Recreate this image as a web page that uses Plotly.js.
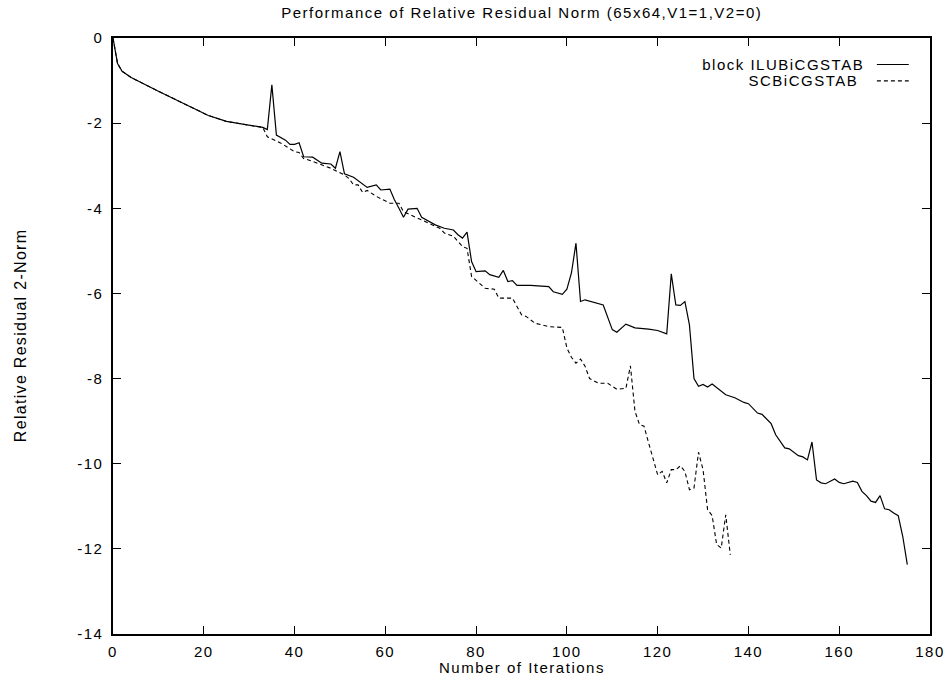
<!DOCTYPE html>
<html>
<head>
<meta charset="utf-8">
<script src="https://cdn.plot.ly/plotly-3.0.1.min.js"></script>
<style>
html,body{margin:0;padding:0;background:#fff;}
#chart{width:947px;height:686px;}
/* the reference's text is drawn wider than its height: widen it a little */
#chart .xtick text, #chart .ytick text, #chart .gtitle, #chart .annotation-text.wide { letter-spacing: 1.5px; }
#chart .annotation-text.vwide { letter-spacing: 1.3px; }
</style>
</head>
<body>
<div id="chart"></div>
<script>
// block ILUBiCGSTAB
const iluIter = [0,1,2,4,10,16,21,25,30,33,34,35,36,38,39,40,41,42,44,46,48,49,50,51,53,54,56,58,59,61,62,63,64,65,67,68,71,73,75,76,77,78,79,80,82,83,85,86,87,88,89,92,96,97,99,100,101,102,103,104,108,110,111,113,115,118,120,122,123,124,125,126,127,128,129,130,131,132,135,137,139,140,142,143,145,146,148,149,151,152,153,154,155,156,157,159,160,161,163,164,165,166,167,168,169,170,171,172,173,174,175];
const iluNorm = [0,-0.6,-0.78,-0.93,-1.25,-1.57,-1.82,-1.96,-2.05,-2.1,-2.15,-1.1,-2.28,-2.4,-2.5,-2.5,-2.46,-2.79,-2.8,-2.94,-2.96,-3.06,-2.67,-3.19,-3.27,-3.35,-3.51,-3.45,-3.57,-3.55,-3.8,-4.0,-4.21,-4.02,-4.0,-4.21,-4.39,-4.47,-4.51,-4.62,-4.7,-4.56,-5.25,-5.49,-5.47,-5.56,-5.62,-5.46,-5.72,-5.7,-5.81,-5.81,-5.84,-5.96,-6.02,-5.9,-5.52,-4.82,-6.19,-6.15,-6.27,-6.85,-6.91,-6.72,-6.81,-6.84,-6.87,-6.95,-5.54,-6.27,-6.28,-6.19,-6.74,-8.0,-8.18,-8.14,-8.2,-8.13,-8.38,-8.45,-8.56,-8.59,-8.81,-8.84,-9.06,-9.32,-9.63,-9.65,-9.81,-9.84,-9.91,-9.49,-10.38,-10.45,-10.47,-10.36,-10.44,-10.47,-10.41,-10.44,-10.65,-10.75,-10.88,-10.91,-10.75,-11.06,-11.08,-11.16,-11.22,-11.71,-12.37];

// SCBiCGSTAB
const scIter = [0,1,2,4,10,16,21,25,30,33,34,37,40,41,42,44,48,51,52,53,54,55,56,58,61,63,64,68,72,73,75,77,78,79,81,82,84,85,88,90,91,93,96,99,100,101,102,103,104,105,107,109,111,113,114,115,116,117,118,120,121,122,123,124,125,126,127,128,129,130,131,132,133,134,135,136];
const scNorm = [0,-0.6,-0.78,-0.93,-1.25,-1.57,-1.82,-1.96,-2.05,-2.1,-2.32,-2.47,-2.67,-2.69,-2.83,-2.9,-3.06,-3.22,-3.3,-3.45,-3.45,-3.63,-3.58,-3.72,-3.88,-3.88,-4.08,-4.27,-4.47,-4.58,-4.66,-4.9,-4.94,-5.6,-5.8,-5.88,-5.9,-6.11,-6.11,-6.5,-6.54,-6.7,-6.78,-6.8,-7.28,-7.5,-7.64,-7.54,-7.71,-8.0,-8.11,-8.11,-8.25,-8.23,-7.7,-8.77,-9.08,-9.12,-9.51,-10.26,-10.18,-10.45,-10.14,-10.14,-10.05,-10.18,-10.61,-10.57,-9.73,-10.14,-11.08,-11.22,-11.9,-11.98,-11.2,-12.14];

const seriesNames = ['block ILUBiCGSTAB', 'SCBiCGSTAB'];
const xTicks = [0,20,40,60,80,100,120,140,160,180];
const yTicks = [0,-2,-4,-6,-8,-10,-12,-14];

const FONT = 'Liberation Sans, Arial, Helvetica, sans-serif';
const TXT = {family: FONT, size: 15, color: '#000'};

const traces = [
  {x: iluIter, y: iluNorm, mode: 'lines', name: seriesNames[0],
   line: {color: '#000', width: 1.2, dash: 'solid'}, showlegend: false},
  {x: scIter, y: scNorm, mode: 'lines', name: seriesNames[1],
   line: {color: '#000', width: 1.1, dash: '4px,3px'}, showlegend: false}
];

const axisCommon = {
  showgrid: false, zeroline: false, showline: true, linecolor: '#000', linewidth: 1.6,
  mirror: 'ticks', ticks: 'inside', ticklen: 8, tickwidth: 1, tickcolor: '#000',
  tickfont: TXT
};

const layout = {
  width: 947, height: 686,
  margin: {l: 113, r: 17, t: 38, b: 52},
  paper_bgcolor: '#fff', plot_bgcolor: '#fff',
  font: {family: FONT, color: '#000'},
  title: {text: 'Performance of Relative Residual Norm (65x64,V1=1,V2=0)',
          font: TXT, x: 0.551, xanchor: 'center', y: 0.982, yanchor: 'middle'},
  xaxis: Object.assign({}, axisCommon, {
    range: [0, 180], tickvals: xTicks, ticktext: xTicks.map(String), ticklabelstandoff: 3
  }),
  yaxis: Object.assign({}, axisCommon, {
    range: [-14, 0], tickvals: yTicks, ticktext: yTicks.map(String), ticklabelstandoff: 5
  }),
  annotations: [
    {xref: 'paper', yref: 'paper', x: 0.5, y: -0.057, xanchor: 'center', yanchor: 'middle',
     text: 'Number of Iterations', showarrow: false, font: TXT},
    {xref: 'paper', yref: 'paper', x: -0.1144, y: 0.5, xanchor: 'center', yanchor: 'middle',
     textangle: -90, text: 'Relative Residual 2-Norm', showarrow: false,
     font: {family: FONT, size: 16, color: '#000'}},
    {xref: 'paper', yref: 'paper', x: 0.906, y: 0.9555, xanchor: 'right', yanchor: 'middle',
     text: seriesNames[0], showarrow: false, font: TXT},
    {xref: 'paper', yref: 'paper', x: 0.906, y: 0.928, xanchor: 'right', yanchor: 'middle',
     text: seriesNames[1], showarrow: false, font: TXT}
  ],
  shapes: [
    {type: 'line', xref: 'paper', yref: 'paper', x0: 0.935, x1: 0.974, y0: 0.9555, y1: 0.9555,
     line: {color: '#000', width: 1.2}},
    {type: 'line', xref: 'paper', yref: 'paper', x0: 0.935, x1: 0.974, y0: 0.928, y1: 0.928,
     line: {color: '#000', width: 1.1, dash: '4px,3px'}}
  ]
};

Plotly.newPlot('chart', traces, layout, {displayModeBar: false, staticPlot: true}).then(function () {
  document.querySelectorAll('#chart .annotation').forEach(function (g) {
    var t = g.querySelector('text.annotation-text');
    if (!t) return;
    t.classList.add(t.textContent === 'Relative Residual 2-Norm' ? 'vwide' : 'wide');
  });
});
</script>
</body>
</html>
